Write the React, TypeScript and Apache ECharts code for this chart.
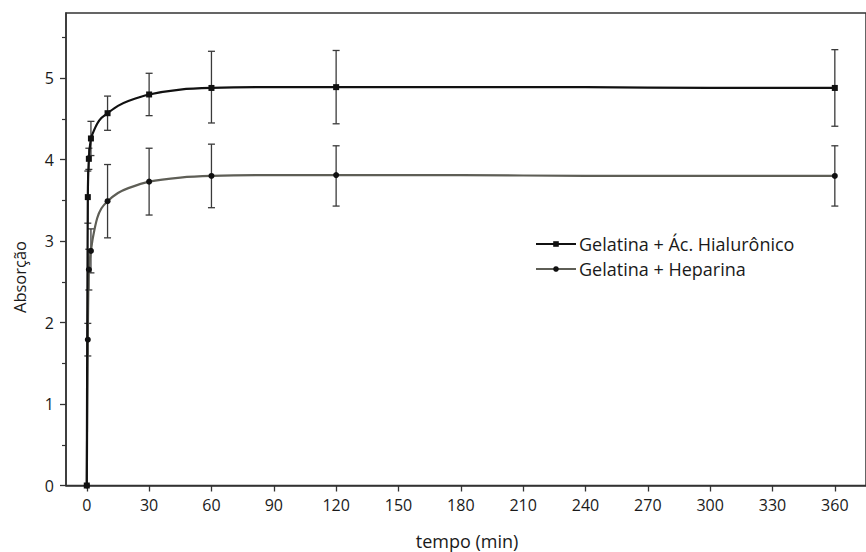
import React, { useEffect, useRef } from "react";
import * as echarts from "echarts";

// measured points
const times = [0, 0.5, 1, 2, 10, 30, 60, 120, 360];
const hyaluronic = [0, 3.54, 4.01, 4.26, 4.57, 4.8, 4.89, 4.89, 4.88];
const hyaluronicErr = [0, 0.32, 0.13, 0.21, 0.21, 0.26, 0.44, 0.45, 0.47];
const heparin = [0, 1.79, 2.65, 2.88, 3.49, 3.73, 3.8, 3.8, 3.8];
const heparinErr = [0, 0.2, 0.25, 0.27, 0.45, 0.41, 0.39, 0.37, 0.37];

// fitted curves
const curveTimes = [0, 0.5, 1, 2, 3, 5, 7, 10, 15, 20, 30, 45, 60, 90, 120, 180, 240, 300, 360];
const hyaluronicCurve = [0, 3.54, 4.01, 4.26, 4.33, 4.44, 4.51, 4.57, 4.66, 4.72, 4.8, 4.86, 4.88, 4.89, 4.89, 4.89, 4.89, 4.88, 4.88];
const heparinCurve = [0, 1.79, 2.65, 2.88, 3.05, 3.28, 3.4, 3.49, 3.59, 3.65, 3.73, 3.78, 3.8, 3.81, 3.81, 3.81, 3.8, 3.8, 3.8];

const xTicks = [0, 30, 60, 90, 120, 150, 180, 210, 240, 270, 300, 330, 360];
const yTicks = [0, 1, 2, 3, 4, 5];
const yMinorTicks = [0.5, 1.5, 2.5, 3.5, 4.5, 5.5];

const nameH = "Gelatina + Ác. Hialurônico";
const nameP = "Gelatina + Heparina";
const FONT = "Open Sans";

function errorSeries(vals: number[], errs: number[]) {
  return {
    type: "custom",
    silent: true,
    z: 1,
    data: times.map((t, i) => [t, vals[i], errs[i]]),
    encode: { x: 0, y: 1 },
    renderItem: (_p: any, api: any) => {
      const x = api.value(0);
      const y = api.value(1);
      const e = api.value(2);
      if (!e) return { type: "group", children: [] };
      const top = api.coord([x, y + e]);
      const bot = api.coord([x, y - e]);
      const hw = 3.5;
      const style = { stroke: "#3a3a3a", lineWidth: 1.3 };
      return {
        type: "group",
        children: [
          { type: "line", shape: { x1: top[0], y1: top[1], x2: bot[0], y2: bot[1] }, style },
          { type: "line", shape: { x1: top[0] - hw, y1: top[1], x2: top[0] + hw, y2: top[1] }, style },
          { type: "line", shape: { x1: bot[0] - hw, y1: bot[1], x2: bot[0] + hw, y2: bot[1] }, style },
        ],
      };
    },
  };
}

function curveData(curve: number[]) {
  return curveTimes.map((t, i) => {
    const measured = times.indexOf(t) >= 0;
    return measured ? { value: [t, curve[i]] } : { value: [t, curve[i]], symbol: "none" };
  });
}

export default function App() {
  const ref = useRef<HTMLDivElement>(null);
  useEffect(() => {
    document.body.style.margin = "0";
    const chart = echarts.init(ref.current!, null, { renderer: "svg" });
    const axisLine = { show: true, onZero: false, lineStyle: { color: "#333", width: 1.5 } };
    chart.setOption({
      animation: false,
      backgroundColor: "#fff",
      textStyle: { fontFamily: FONT },
      grid: { left: 66, top: 13, width: 801, height: 472.5, show: true, borderColor: "#333", borderWidth: 1.5 },
      legend: {
        data: [nameH, nameP],
        orient: "vertical",
        left: 535,
        top: 235,
        padding: 0,
        itemWidth: 40,
        itemHeight: 7,
        itemGap: 7,
        textStyle: { fontSize: 18, color: "#1a1a1a", fontFamily: FONT, padding: [0, 0, 0, -2] },
      },
      xAxis: {
        type: "value",
        min: -10,
        max: 375,
        axisLine,
        splitLine: { show: false },
        axisTick: { show: true, length: 6, inside: false, customValues: xTicks, lineStyle: { color: "#333", width: 1.3 } },
        axisLabel: { customValues: xTicks, fontSize: 16, color: "#1a1a1a", margin: 11, fontFamily: FONT },
      },
      yAxis: [
        {
          type: "value",
          min: 0,
          max: 5.8,
          axisLine,
          splitLine: { show: false },
          axisTick: { show: true, length: 6, customValues: yTicks, lineStyle: { color: "#333", width: 1.3 } },
          axisLabel: { customValues: yTicks, fontSize: 16, color: "#1a1a1a", margin: 12, fontFamily: FONT },
        },
        {
          type: "value",
          position: "left",
          min: 0,
          max: 5.8,
          axisLine: { show: false, onZero: false },
          splitLine: { show: false },
          axisTick: { show: true, length: 4, customValues: yMinorTicks, lineStyle: { color: "#333", width: 1.2 } },
          axisLabel: { show: false },
        },
      ],
      graphic: [
        {
          type: "text",
          x: 19,
          y: 277,
          rotation: Math.PI / 2,
          style: { text: "Absorção", fontSize: 16.5, fill: "#1a1a1a", fontFamily: FONT, align: "center", verticalAlign: "middle" },
        },
        {
          type: "text",
          x: 467,
          y: 541,
          style: { text: "tempo (min)", fontSize: 18, fill: "#1a1a1a", fontFamily: FONT, align: "center", verticalAlign: "middle" },
        },
      ],
      series: [
        errorSeries(heparin, heparinErr),
        errorSeries(hyaluronic, hyaluronicErr),
        {
          name: nameP,
          type: "line",
          z: 3,
          data: curveData(heparinCurve),
          smooth: 0.3,
          symbol: "circle",
          symbolSize: 6,
          showSymbol: true,
          itemStyle: { color: "#111" },
          lineStyle: { color: "#5e5e56", width: 2.2 },
        },
        {
          name: nameH,
          type: "line",
          z: 4,
          data: curveData(hyaluronicCurve),
          smooth: 0.3,
          symbol: "rect",
          symbolSize: 6,
          showSymbol: true,
          itemStyle: { color: "#111" },
          lineStyle: { color: "#111", width: 2.2 },
        },
      ],
    });
    return () => chart.dispose();
  }, []);
  return <div ref={ref} style={{ width: 866, height: 552 }} />;
}
